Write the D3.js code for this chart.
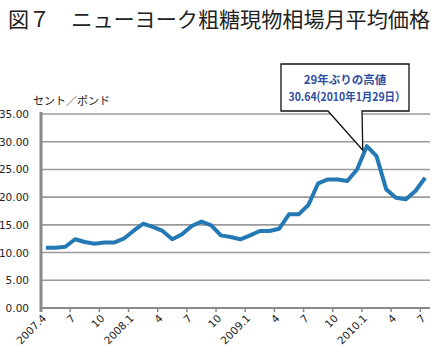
<!DOCTYPE html>
<html><head><meta charset="utf-8">
<script src="https://cdn.jsdelivr.net/npm/d3@7"></script>
<style>body{margin:0;background:#fff}svg{display:block}</style>
</head><body>
<svg id="c" width="435" height="353"></svg>
<script>
const months = ["2007.4","5","6","7","8","9","10","11","12","2008.1","2","3","4","5","6","7","8","9","10","11","12","2009.1","2","3","4","5","6","7","8","9","10","11","12","2010.1","2","3","4","5","6","7"];
const values = [10.85,10.85,11.05,12.4,11.9,11.6,11.8,11.8,12.5,13.9,15.2,14.65,13.9,12.4,13.3,14.8,15.6,14.9,13.1,12.8,12.4,13.1,13.9,13.9,14.3,16.9,16.9,18.6,22.5,23.2,23.2,22.9,25.0,29.2,27.4,21.4,19.9,19.6,21.1,23.5];
const yTicks = [0,5,10,15,20,25,30,35];
const labelIdx = [0,3,6,9,12,15,18,21,24,27,30,33,36,39];
const title = "図７　ニューヨーク粗糖現物相場月平均価格";
const yLabel = "セント／ポンド";
const note = ["29年ぶりの高値","30.64(2010年1月29日）"];
const peakIdx = 33;

const svg = d3.select("#c");
const L = 41, R = 430, T = 114, B = 308;
const x = d3.scaleBand().domain(d3.range(months.length)).range([L, R]);
const cx = i => x(i) + x.bandwidth()/2;
const y = d3.scaleLinear().domain([0,35]).range([B, T]);
const font = "'Noto Sans CJK JP','Noto Sans',sans-serif";

svg.append("text").attr("x",8).attr("y",27).attr("font-family",font).attr("font-size",21)
  .attr("textLength",422).attr("lengthAdjust","spacingAndGlyphs").attr("fill","#222").text(title);

// grid
svg.append("g").selectAll("line").data(yTicks.filter(d=>d>0)).join("line")
  .attr("x1",L).attr("x2",R).attr("y1",d=>y(d)).attr("y2",d=>y(d))
  .attr("stroke","#9a9a9a").attr("stroke-width",1.6);

// y labels
svg.append("g").selectAll("text").data(yTicks).join("text")
  .attr("x",29).attr("y",d=>y(d)+4).attr("text-anchor","end")
  .attr("font-family","'DejaVu Sans',sans-serif").attr("font-size",10.5).attr("fill","#222")
  .text(d=>d.toFixed(2));
svg.append("text").attr("x",33).attr("y",105).attr("font-family",font).attr("font-size",11)
  .attr("fill","#222").text(yLabel);

// x axis
svg.append("line").attr("x1",L).attr("x2",R).attr("y1",B).attr("y2",B).attr("stroke","#8a8a8a").attr("stroke-width",2);
svg.append("g").selectAll("line").data(labelIdx).join("line")
  .attr("x1",i=>x(i)).attr("x2",i=>x(i)).attr("y1",B).attr("y2",B+4).attr("stroke","#8a8a8a").attr("stroke-width",1.5);
svg.append("g").selectAll("text").data(labelIdx).join("text")
  .attr("transform",i=>`translate(${cx(i)+1},${B+11}) rotate(-45)`)
  .attr("text-anchor","end").attr("font-family","'DejaVu Sans',sans-serif").attr("font-size",10.5).attr("fill","#222")
  .text(i=>months[i]);

// y axis
svg.append("line").attr("x1",L).attr("x2",L).attr("y1",T-2).attr("y2",B+4).attr("stroke","#8a8a8a").attr("stroke-width",3);

// line
const line = d3.line().x((d,i)=>cx(i)).y(d=>y(d));
svg.append("path").datum(values).attr("d",line).attr("fill","none")
  .attr("stroke","#2478b4").attr("stroke-width",4).attr("stroke-linejoin","round");

// callout
const px = cx(peakIdx) - 4, py = y(values[peakIdx]) + 4;
const bx0=281,bx1=409,by0=64,by1=111;
svg.append("path").attr("d",`M${bx0},${by0}H${bx1}V${by1}H362L${px},${py}L328,${by1}H${bx0}Z`)
  .attr("fill","#fff").attr("stroke","#111").attr("stroke-width",1.3);
svg.append("text").attr("x",345).attr("y",84).attr("text-anchor","middle").attr("font-family",font)
  .attr("font-size",11.5).attr("font-weight","bold").attr("fill","#2e4e9e").text(note[0]);
svg.append("text").attr("x",347).attr("y",101).attr("text-anchor","middle").attr("font-family",font)
  .attr("font-size",11.5).attr("font-weight","bold").attr("fill","#2e4e9e")
  .attr("textLength",117).attr("lengthAdjust","spacingAndGlyphs").text(note[1]);
</script>
</body></html>
